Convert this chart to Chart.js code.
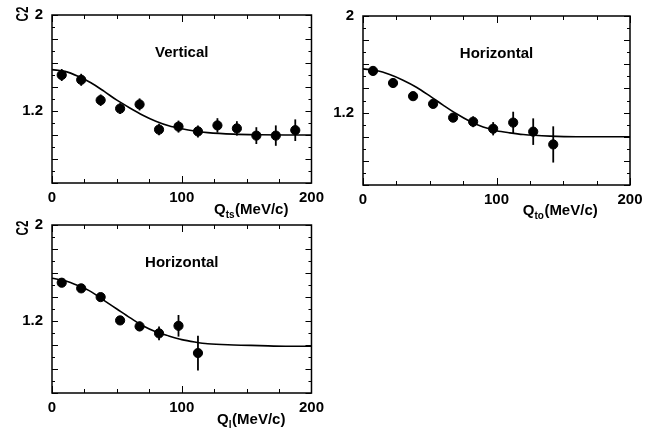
<!DOCTYPE html>
<html>
<head>
<meta charset="utf-8">
<script src="https://cdn.jsdelivr.net/npm/chart.js@4.4.1/dist/chart.umd.min.js"></script>
<style>
  body { margin: 0; background: #fff; overflow: hidden; }
  .panel { position: absolute; }
</style>
</head>
<body>
<div class="panel" style="left:0;top:-10px;width:330px;height:235px"><canvas id="cVert"></canvas></div>
<div class="panel" style="left:327px;top:-10px;width:327px;height:235px"><canvas id="cTo"></canvas></div>
<div class="panel" style="left:0;top:200px;width:330px;height:231px"><canvas id="cL"></canvas></div>
<script>
// bin centres (MeV/c)
const qBins = [7.5, 22.5, 37.5, 52.5, 67.5, 82.5, 97.5, 112.5, 127.5, 142.5, 157.5, 172.5, 187.5];

// Vertical, Q_ts
const c2Vert  = [1.50, 1.46, 1.29, 1.22, 1.255, 1.045, 1.07, 1.03, 1.08, 1.055, 0.995, 0.995, 1.04];
const errVert = [0.05, 0.05, 0.048, 0.045, 0.05, 0.048, 0.05, 0.05, 0.06, 0.06, 0.07, 0.085, 0.09];

// Horizontal, Q_to
const c2To  = [1.545, 1.445, 1.336, 1.272, 1.158, 1.124, 1.066, 1.117, 1.042, 0.936];
const errTo = [0.02, 0.02, 0.02, 0.025, 0.03, 0.045, 0.055, 0.09, 0.11, 0.15];

// Horizontal, Q_l
const c2L  = [1.519, 1.472, 1.399, 1.205, 1.155, 1.097, 1.16, 0.933];
const errL = [0.02, 0.02, 0.025, 0.025, 0.04, 0.057, 0.09, 0.145];

// fit curves
const fitQ    = [0, 10, 20, 30, 40, 50, 60, 70, 80, 90, 100, 110, 120, 140, 160, 180, 200];
const fitVert = [1.545, 1.53, 1.49, 1.435, 1.365, 1.29, 1.225, 1.165, 1.115, 1.077, 1.052, 1.033, 1.02, 1.007, 1.002, 1.0, 1.0];
const fitTo   = [1.562, 1.548, 1.515, 1.468, 1.41, 1.338, 1.262, 1.19, 1.128, 1.08, 1.05, 1.032, 1.018, 1.005, 1.0, 1.0, 1.0];
const fitL    = [1.556, 1.535, 1.495, 1.445, 1.372, 1.3, 1.228, 1.16, 1.11, 1.075, 1.045, 1.025, 1.01, 1.0, 0.995, 0.99, 0.99];

const xLabels = [0, 100, 200];
const yLabels = [2, 1.2];

const FONT = '"Liberation Sans", Arial, Helvetica, sans-serif';

const framePlugin = {
    id: 'frame',
    afterDatasetsDraw(chart, args, o) {
        const { ctx, chartArea: a, scales: { x, y } } = chart;
        ctx.save();
        ctx.strokeStyle = '#000';
        ctx.fillStyle = '#000';

        // error bars
        ctx.lineWidth = 1.8;
        const pts = chart.data.datasets[1].data;
        pts.forEach((p, i) => {
            const px = x.getPixelForValue(p.x);
            ctx.beginPath();
            ctx.moveTo(px, y.getPixelForValue(p.y - o.errs[i]));
            ctx.lineTo(px, y.getPixelForValue(p.y + o.errs[i]));
            ctx.stroke();
        });

        // box
        ctx.lineWidth = 1.5;
        ctx.strokeRect(a.left, a.top, a.right - a.left, a.bottom - a.top);

        // inward ticks on all four sides
        ctx.lineWidth = 1;
        x.ticks.forEach(t => {
            const px = Math.round(x.getPixelForValue(t.value)) + 0.5;
            const len = xLabels.some(v => Math.abs(v - t.value) < 1e-6) ? 7 : 4;
            ctx.beginPath();
            ctx.moveTo(px, a.bottom); ctx.lineTo(px, a.bottom - len);
            ctx.moveTo(px, a.top); ctx.lineTo(px, a.top + len);
            ctx.stroke();
        });
        y.ticks.forEach(t => {
            const py = Math.round(y.getPixelForValue(t.value)) + 0.5;
            const major = Math.abs(Math.round(t.value * 5) - t.value * 5) < 1e-6;
            const len = major ? 6 : 3;
            ctx.beginPath();
            ctx.moveTo(a.left, py); ctx.lineTo(a.left + len, py);
            ctx.moveTo(a.right, py); ctx.lineTo(a.right - len, py);
            ctx.stroke();
        });

        // panel title
        ctx.font = 'bold 15px ' + FONT;
        ctx.textAlign = 'center';
        ctx.textBaseline = 'middle';
        ctx.fillText(o.title, (a.left + a.right) / 2, a.top + 38);

        // x axis title with subscript
        const big = 'bold 15px ' + FONT, small = 'bold 10px ' + FONT;
        ctx.textAlign = 'left';
        ctx.textBaseline = 'alphabetic';
        ctx.font = big;
        const w1 = ctx.measureText('Q').width;
        const w3 = ctx.measureText('(MeV/c)').width;
        ctx.font = small;
        const w2 = ctx.measureText(o.sub).width;
        let tx = a.left + o.labelX - (w1 + w2 + w3) / 2;
        const ty = a.bottom + o.labelDy;
        ctx.font = big; ctx.fillText('Q', tx, ty); tx += w1;
        ctx.font = small; ctx.fillText(o.sub, tx, ty + 4); tx += w2 + 0.5;
        ctx.font = big; ctx.fillText('(MeV/c)', tx, ty);

        // y axis title, rotated
        if (o.yTitle) {
            ctx.save();
            ctx.translate(a.left - 28.5, a.top + o.yTitleDy);
            ctx.rotate(-Math.PI / 2);
            ctx.scale(0.68, 1);
            ctx.font = 'bold 17px ' + FONT;
            ctx.textAlign = 'center';
            ctx.textBaseline = 'middle';
            ctx.fillText('C2', 0, 0);
            ctx.restore();
        }
        ctx.restore();
    }
};

function makePanel(id, c2, errs, fit, opts) {
    const points = c2.map((v, i) => ({ x: qBins[i], y: v }));
    const curve = fit.map((v, i) => ({ x: fitQ[i], y: v }));
    new Chart(document.getElementById(id).getContext('2d'), {
        type: 'scatter',
        data: {
            datasets: [
                {
                    type: 'line',
                    data: curve,
                    borderColor: '#000',
                    borderWidth: 1.6,
                    pointRadius: 0,
                    cubicInterpolationMode: 'monotone',
                    fill: false
                },
                {
                    data: points,
                    backgroundColor: '#000',
                    borderColor: '#000',
                    pointRadius: 4.6,
                    pointHoverRadius: 4.6
                }
            ]
        },
        options: {
            responsive: true,
            maintainAspectRatio: false,
            animation: false,
            events: [],
            layout: { padding: opts.padding },
            plugins: {
                legend: { display: false },
                tooltip: { enabled: false },
                frame: {
                    errs: errs, title: opts.title, sub: opts.sub, labelX: opts.labelX,
                    labelDy: opts.labelDy, yTitle: opts.yTitle, yTitleDy: opts.yTitleDy
                }
            },
            scales: {
                x: {
                    type: 'linear',
                    min: 0,
                    max: 200,
                    grid: { display: false, drawTicks: false },
                    border: { display: false },
                    afterFit(s) { s.height = opts.xHeight; },
                    ticks: {
                        stepSize: 25,
                        autoSkip: false,
                        maxRotation: 0,
                        padding: 6,
                        color: '#000',
                        font: { family: FONT, size: 15, weight: 'bold' },
                        callback: v => xLabels.some(l => Math.abs(l - v) < 1e-6) ? String(v) : ''
                    }
                },
                y: {
                    type: 'linear',
                    min: 0.6,
                    max: 2,
                    grid: { display: false, drawTicks: false },
                    border: { display: false },
                    afterFit(s) { s.width = opts.yWidth; },
                    ticks: {
                        stepSize: 0.1,
                        autoSkip: false,
                        padding: 9,
                        color: '#000',
                        font: { family: FONT, size: 15, weight: 'bold' },
                        callback: v => {
                            const l = yLabels.find(l => Math.abs(l - v) < 1e-6);
                            return l === undefined ? '' : String(l);
                        }
                    }
                }
            }
        },
        plugins: [framePlugin]
    });
}

makePanel('cVert', c2Vert, errVert, fitVert, {
    padding: { top: 25, right: 13, left: 0, bottom: 0 },
    xHeight: 42, yWidth: 52,
    title: 'Vertical', sub: 'ts', labelX: 199, labelDy: 31, yTitle: true, yTitleDy: -1
});
makePanel('cTo', c2To, errTo, fitTo, {
    padding: { top: 26, right: 24, left: 0, bottom: 0 },
    xHeight: 40, yWidth: 36,
    title: 'Horizontal', sub: 'to', labelX: 197, labelDy: 30, yTitle: false, yTitleDy: 0
});
makePanel('cL', c2L, errL, fitL, {
    padding: { top: 25, right: 13, left: 0, bottom: 0 },
    xHeight: 38, yWidth: 52,
    title: 'Horizontal', sub: 'l', labelX: 199, labelDy: 31, yTitle: true, yTitleDy: 3
});
</script>
</body>
</html>
